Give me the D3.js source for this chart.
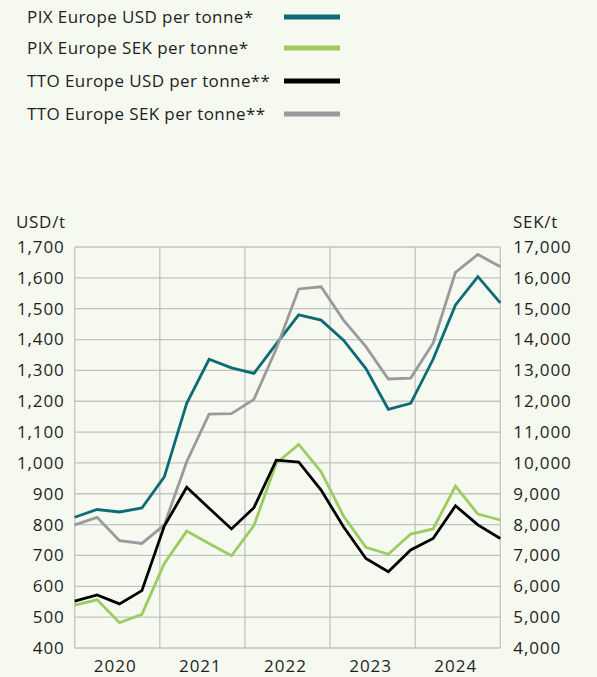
<!DOCTYPE html>
<html>
<head>
<meta charset="utf-8">
<script src="https://cdn.jsdelivr.net/npm/d3@7"></script>
<style>
  html, body { margin: 0; padding: 0; background: #f6f9f0; }
  svg { display: block; }
  text { font-family: "Open Sans", "Lato", sans-serif; fill: #1e1e1e; }
</style>
</head>
<body>
<div id="chart"></div>
<script>
// ---- Data (quarterly, 2020 Q1 – 2024 Q4) ----
const quarters = ["2020Q1","2020Q2","2020Q3","2020Q4","2021Q1","2021Q2","2021Q3","2021Q4",
                  "2022Q1","2022Q2","2022Q3","2022Q4","2023Q1","2023Q2","2023Q3","2023Q4",
                  "2024Q1","2024Q2","2024Q3","2024Q4"];
const years = ["2020","2021","2022","2023","2024"];
const pixUSD = [824, 849, 841, 854, 955, 1193, 1336, 1308, 1290, 1386, 1480, 1463,
                1398, 1306, 1174, 1193, 1336, 1512, 1604, 1519];
const pixSEK = [5390, 5560, 4820, 5090, 6745, 7790, 7390, 6990, 7965, 9990, 10600, 9715,
                8280, 7265, 7040, 7695, 7860, 9250, 8340, 8150];
const ttoUSD = [552, 572, 543, 586, 795, 921, 853, 786, 855, 1009, 1003, 912,
                793, 690, 647, 718, 755, 861, 799, 755];
const ttoSEK = [7990, 8235, 7480, 7390, 7990, 10040, 11585, 11595, 12060, 13700, 15640, 15710,
                14630, 13770, 12720, 12750, 13880, 16180, 16760, 16360];
const usdTicks = [400, 500, 600, 700, 800, 900, 1000, 1100, 1200, 1300, 1400, 1500, 1600, 1700];
const sekTicks = [4000, 5000, 6000, 7000, 8000, 9000, 10000, 11000, 12000, 13000, 14000, 15000, 16000, 17000];
const legendLabels = ["PIX Europe USD per tonne*", "PIX Europe SEK per tonne*",
                      "TTO Europe USD per tonne**", "TTO Europe SEK per tonne**"];

// ---- Layout ----
const W = 597, H = 677;
const pLeft = 74.7, pRight = 500.3, pTop = 247, pBottom = 648;
const colors = { pixUSD: "#0c6b74", pixSEK: "#9ccc5f", ttoUSD: "#000000", ttoSEK: "#9a9a9d" };
const gridColor = "#c3c3c3";
const fs = 17;

const svg = d3.select("#chart").append("svg").attr("width", W).attr("height", H);
svg.append("rect").attr("width", W).attr("height", H).attr("fill", "#f6f9f0");

const x = d3.scaleLinear().domain([0, quarters.length - 1]).range([pLeft, pRight]);
const yL = d3.scaleLinear().domain([400, 1700]).range([pBottom, pTop]);
const yR = d3.scaleLinear().domain([4000, 17000]).range([pBottom, pTop]);
const yearW = (quarters.length - 1) / years.length;

// Horizontal gridlines
svg.append("g").selectAll("line").data(usdTicks).join("line")
  .attr("x1", pLeft).attr("x2", pRight)
  .attr("y1", d => yL(d)).attr("y2", d => yL(d))
  .attr("stroke", gridColor).attr("stroke-width", 1.3);

// Vertical gridlines (year boundaries incl. frame)
const vlines = d3.range(years.length + 1).map(i => i * yearW);
svg.append("g").selectAll("line").data(vlines).join("line")
  .attr("x1", d => x(d)).attr("x2", d => x(d))
  .attr("y1", pTop).attr("y2", pBottom)
  .attr("stroke", gridColor).attr("stroke-width", 1.3);

// Left axis labels
const leftAxis = d3.axisLeft(yL).tickValues(usdTicks).tickSize(0).tickPadding(10)
  .tickFormat(d3.format(","));
const gL = svg.append("g").attr("transform", `translate(${pLeft},0)`).call(leftAxis);
gL.select(".domain").remove();
gL.selectAll("text").attr("font-size", fs).attr("fill", "#1e1e1e")
  .attr("letter-spacing", 0.9)
  .style("font-family", '"Open Sans", sans-serif');

// Right axis labels
const rightAxis = d3.axisRight(yR).tickValues(sekTicks).tickSize(0).tickPadding(13)
  .tickFormat(d3.format(","));
const gR = svg.append("g").attr("transform", `translate(${pRight},0)`).call(rightAxis);
gR.select(".domain").remove();
gR.selectAll("text").attr("font-size", fs).attr("fill", "#1e1e1e")
  .attr("letter-spacing", 0.9)
  .style("font-family", '"Open Sans", sans-serif');

// Axis titles
svg.append("text").attr("x", 16).attr("y", 228).attr("font-size", fs)
  .attr("letter-spacing", 0.7).text("USD/t");
svg.append("text").attr("x", 513).attr("y", 228).attr("font-size", fs)
  .attr("letter-spacing", 0.7).text("SEK/t");

// Year labels
svg.append("g").selectAll("text").data(years).join("text")
  .attr("x", (d, i) => x((i + 0.5) * yearW) - 2)
  .attr("y", 672).attr("text-anchor", "middle").attr("font-size", fs)
  .attr("letter-spacing", 1)
  .text(d => d);

// Lines
const lineL = d3.line().x((d, i) => x(i)).y(d => yL(d));
const lineR = d3.line().x((d, i) => x(i)).y(d => yR(d));
const series = [
  { data: pixUSD, line: lineL, color: colors.pixUSD },
  { data: ttoSEK, line: lineR, color: colors.ttoSEK },
  { data: pixSEK, line: lineR, color: colors.pixSEK },
  { data: ttoUSD, line: lineL, color: colors.ttoUSD }
];
svg.append("g").selectAll("path").data(series).join("path")
  .attr("d", d => d.line(d.data))
  .attr("fill", "none").attr("stroke", d => d.color)
  .attr("stroke-width", 2.8).attr("stroke-linejoin", "miter");

// Legend
const legColors = [colors.pixUSD, colors.pixSEK, colors.ttoUSD, colors.ttoSEK];
const legY = [17, 48, 81, 114];
const leg = svg.append("g");
leg.selectAll("text").data(legendLabels).join("text")
  .attr("x", 27).attr("y", (d, i) => legY[i]).attr("dy", "0.35em")
  .attr("font-size", fs).attr("letter-spacing", 0.4).text(d => d);
leg.selectAll("line").data(legColors).join("line")
  .attr("x1", 284).attr("x2", 340)
  .attr("y1", (d, i) => legY[i]).attr("y2", (d, i) => legY[i])
  .attr("stroke", d => d).attr("stroke-width", 5);
</script>
</body>
</html>
